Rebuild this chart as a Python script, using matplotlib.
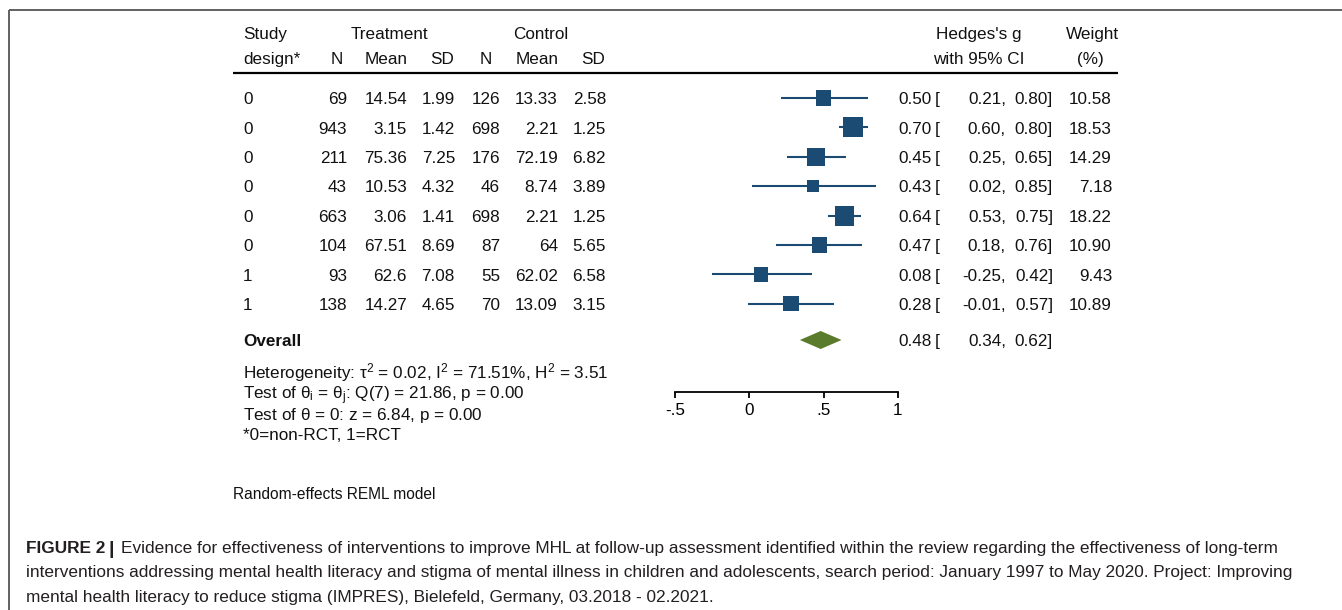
import matplotlib
matplotlib.use("Agg")
import matplotlib.pyplot as plt
from matplotlib import font_manager

# ---- study-level data -------------------------------------------------
design = [0, 0, 0, 0, 0, 0, 1, 1]
n_treat = [69, 943, 211, 43, 663, 104, 93, 138]
mean_treat = [14.54, 3.15, 75.36, 10.53, 3.06, 67.51, 62.6, 14.27]
sd_treat = [1.99, 1.42, 7.25, 4.32, 1.41, 8.69, 7.08, 4.65]
n_ctrl = [126, 698, 176, 46, 698, 87, 55, 70]
mean_ctrl = [13.33, 2.21, 72.19, 8.74, 2.21, 64, 62.02, 13.09]
sd_ctrl = [2.58, 1.25, 6.82, 3.89, 1.25, 5.65, 6.58, 3.15]
hedges_g = [0.50, 0.70, 0.45, 0.43, 0.64, 0.47, 0.08, 0.28]
ci_low = [0.21, 0.60, 0.25, 0.02, 0.53, 0.18, -0.25, -0.01]
ci_high = [0.80, 0.80, 0.65, 0.85, 0.75, 0.76, 0.42, 0.57]
weight = [10.58, 18.53, 14.29, 7.18, 18.22, 10.90, 9.43, 10.89]

overall_g, overall_low, overall_high = 0.48, 0.34, 0.62

axis_ticks = [-0.5, 0, 0.5, 1]
axis_ticklabels = ["-.5", "0", ".5", "1"]

stats_lines = [
    r"Heterogeneity: $\mathrm{\tau}^{2}$ = 0.02, $\mathrm{I}^{2}$ = 71.51%, $\mathrm{H}^{2}$ = 3.51",
    r"Test of $\mathrm{\theta_{i}}$ = $\mathrm{\theta_{j}}$: Q(7) = 21.86, p = 0.00",
    r"Test of $\mathrm{\theta}$ = 0: z = 6.84, p = 0.00",
    "*0=non-RCT, 1=RCT",
]
model_note = "Random-effects REML model"
caption_lead = "FIGURE 2"
caption_lines = [
    "Evidence for effectiveness of interventions to improve MHL at follow-up assessment identified within the review regarding the effectiveness of long-term",
    "interventions addressing mental health literacy and stigma of mental illness in children and adolescents, search period: January 1997 to May 2020. Project: Improving",
    "mental health literacy to reduce stigma (IMPRES), Bielefeld, Germany, 03.2018 - 02.2021.",
]

# ---- styling -----------------------------------------------------------
BLUE = "#1b4a73"
GREEN = "#5b7b2c"
TXT = "#111111"
CAP = "#231f20"
FS = 12.3

plt.rcParams["font.family"] = ["Liberation Sans", "DejaVu Sans"]
plt.rcParams["mathtext.fontset"] = "custom"
plt.rcParams["mathtext.rm"] = "Liberation Sans"
plt.rcParams["mathtext.it"] = "Liberation Sans:italic"
plt.rcParams["mathtext.bf"] = "Liberation Sans:bold"

W, H = 1342, 610
fig = plt.figure(figsize=(W / 100, H / 100), dpi=100)
fig.patch.set_facecolor("white")

# pixel-space overlay for the table text and frame
ov = fig.add_axes([0, 0, 1, 1])
ov.set_xlim(0, W)
ov.set_ylim(H, 0)
ov.axis("off")


def put(x, y, s, ha="left", size=FS, weight="normal", color=TXT, family=None):
    kw = {}
    if family is not None:
        kw["family"] = family
    return ov.text(x, y + 0.36 * size * 100 / 72, s, ha=ha, va="baseline",
                   fontsize=size, fontweight=weight, color=color, **kw)


# frame
ov.plot([9, W], [10, 10], color="#555555", lw=1.3, solid_capstyle="butt")
ov.plot([9, 9], [10, H], color="#555555", lw=1.3, solid_capstyle="butt")

# header
put(243, 33, "Study")
put(243, 58, "design*")
put(389, 33, "Treatment", ha="center")
put(541, 33, "Control", ha="center")
put(337, 58, "N", ha="center")
put(408, 58, "Mean", ha="right")
put(454, 58, "SD", ha="right")
put(486, 58, "N", ha="center")
put(559, 58, "Mean", ha="right")
put(605, 58, "SD", ha="right")
put(979, 33, "Hedges's g", ha="center")
put(979, 58, "with 95% CI", ha="center")
put(1092, 33, "Weight", ha="center")
put(1090, 58, "(%)", ha="center")
ov.plot([233, 1118], [73, 73], color="black", lw=1.6, solid_capstyle="butt")

# table rows
row_y0, row_step = 98, 29.4
row_ys = [row_y0 + i * row_step for i in range(len(design))]
overall_y = 340


def fmt(v):
    return f"{v:g}"


for i, y in enumerate(row_ys):
    put(243, y, str(design[i]))
    put(347, y, str(n_treat[i]), ha="right")
    put(407, y, fmt(mean_treat[i]), ha="right")
    put(455, y, f"{sd_treat[i]:.2f}", ha="right")
    put(500, y, str(n_ctrl[i]), ha="right")
    put(558, y, fmt(mean_ctrl[i]), ha="right")
    put(606, y, f"{sd_ctrl[i]:.2f}", ha="right")
    put(932, y, f"{hedges_g[i]:.2f}", ha="right")
    put(935, y, "[")
    put(1006, y, f"{ci_low[i]:.2f},", ha="right")
    put(1053, y, f"{ci_high[i]:.2f}]", ha="right")
    put(1112, y, f"{weight[i]:.2f}", ha="right")

put(243, overall_y, "Overall", weight="bold")
put(932, overall_y, f"{overall_g:.2f}", ha="right")
put(935, overall_y, "[")
put(1006, overall_y, f"{overall_low:.2f},", ha="right")
put(1053, overall_y, f"{overall_high:.2f}]", ha="right")

for k, s in enumerate(stats_lines):
    put(243, 372 + k * 20.7, s)

put(233, 493, model_note, size=11.2)

# ---- forest panel --------------------------------------------------------
x_left, x_right = 675, 898
y_axis, y_top = 392, 83
fa = fig.add_axes([x_left / W, (H - y_axis) / H, (x_right - x_left) / W, (y_axis - y_top) / H])
fa.patch.set_alpha(0)
fa.set_xlim(axis_ticks[0], axis_ticks[-1])
fa.set_ylim(y_axis, y_top)
for side in ("top", "right", "left"):
    fa.spines[side].set_visible(False)
fa.spines["bottom"].set_linewidth(1.3)
fa.set_yticks([])
fa.set_xticks(axis_ticks)
fa.set_xticklabels(axis_ticklabels, fontsize=FS)
fa.tick_params(axis="x", direction="out", length=4.5, width=1.3, pad=3.5, colors="black")

for i, y in enumerate(row_ys):
    fa.plot([ci_low[i], ci_high[i]], [y, y], color=BLUE, lw=1.5, solid_capstyle="butt",
            clip_on=False, zorder=2)
fa.scatter(hedges_g, row_ys, s=[11.2 * w for w in weight], marker="s", color=BLUE,
           linewidths=0, zorder=3, clip_on=False)

half_h = 9
fa.fill([overall_low, overall_g, overall_high, overall_g],
        [overall_y, overall_y - half_h, overall_y, overall_y + half_h],
        color=GREEN, lw=0, clip_on=False, zorder=3)

# ---- caption -------------------------------------------------------------
names = {f.name for f in font_manager.fontManager.ttflist}
cap_family = "Liberation Sans Narrow" if "Liberation Sans Narrow" in names else "Liberation Sans"
cap_y = [547, 571, 596]
put(26, cap_y[0], caption_lead, weight="bold", color=CAP, size=12.4)
put(108.5, cap_y[0], "|", weight="bold", color=CAP, size=14)
cap_x = [121, 26, 26]
cap_texts = [put(cap_x[k], cap_y[k], s, color=CAP, size=12.2, family=cap_family)
             for k, s in enumerate(caption_lines)]

# fit caption width when no narrow face is available
fig.canvas.draw()
r = fig.canvas.get_renderer()
bb = cap_texts[0].get_window_extent(renderer=r)
target = 1280 - 121
scale = target / bb.width
if abs(scale - 1) > 0.02:
    for t in cap_texts:
        t.set_fontsize(12.2 * scale)

fig.savefig("out.png", dpi=100, facecolor="white")
